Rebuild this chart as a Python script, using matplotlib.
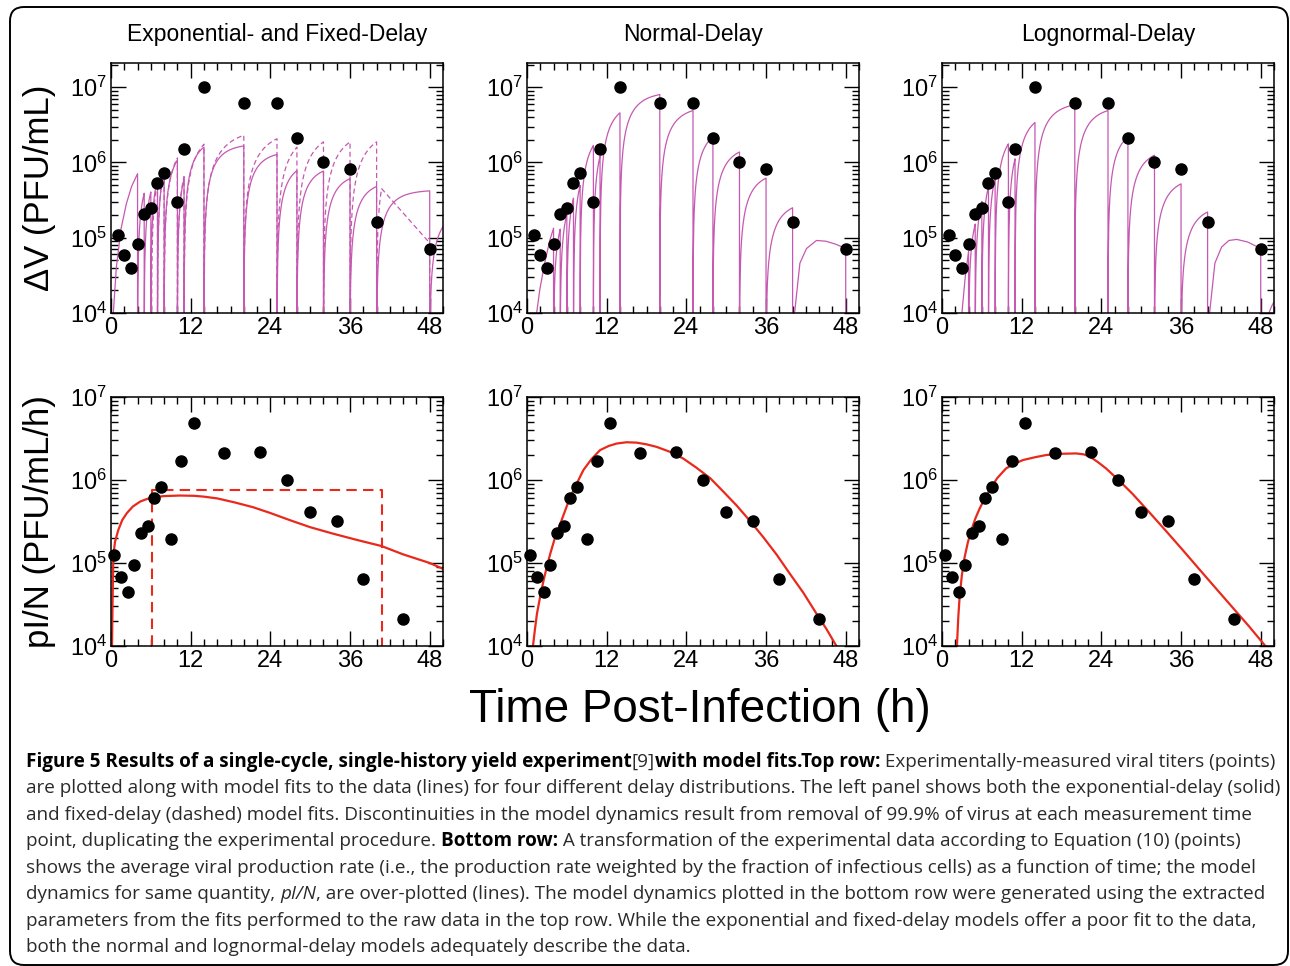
import numpy as np
import matplotlib
matplotlib.use('Agg')
from matplotlib import pyplot as plt
from matplotlib.ticker import MultipleLocator, LogLocator
from matplotlib.patches import FancyBboxPatch
from matplotlib.transforms import IdentityTransform

# Measured titers (top row), taken at these times (h).
meas_t = [1, 2, 3, 4, 5, 6, 7, 8, 10, 11, 14, 20, 25, 28, 32, 36, 40, 48]
dv_obs = [1.1e5, 5.9e4, 4.0e4, 8.3e4, 2.06e5, 2.45e5, 5.4e5, 7.3e5, 3.0e5,
          1.5e6, 1.0e7, 6.2e6, 6.2e6, 2.1e6, 1.0e6, 8.1e5, 1.6e5, 7.1e4]

# Production rate from the data (bottom row), at interval midpoints.
rate_t = [0.5, 1.5, 2.5, 3.5, 4.5, 5.5, 6.5, 7.5, 9, 10.5, 12.5, 17, 22.5,
          26.5, 30, 34, 38, 44]
rate_obs = [1.24e5, 6.7e4, 4.5e4, 9.5e4, 2.3e5, 2.8e5, 6.1e5, 8.3e5, 1.93e5,
            1.7e6, 4.9e6, 2.1e6, 2.2e6, 1.0e6, 4.1e5, 3.2e5, 6.5e4, 2.1e4]

# Top row model fits: value reached just before each 99.9% removal.
exp_head_t = [0.35, 0.8, 1.5, 2.3, 3.1, 4.0]
exp_head_v = [1e4, 4e4, 1.3e5, 2.8e5, 4.8e5, 7.1e5]
exp_ends = [5, 6, 7, 8, 10, 11, 14, 20, 25, 28, 32, 36, 40, 48, 50]
exp_peaks = [3.9e5, 4.06e5, 6.1e5, 7.5e5, 1.07e6, 6.1e5, 1.6e6, 1.66e6,
             1.28e6, 7.8e5, 7.7e5, 6.1e5, 4.8e5, 4.2e5, 1.4e5]

fix_on, fix_off, fix_rate = 6.1, 40.75, 7.6e5
fix_ends = [7, 8, 10, 11, 14, 20, 25, 28, 32, 36, 40, 40.75]
fix_peaks = [5.5e5, 8e5, 1.15e6, 6.5e5, 1.75e6, 2.3e6, 2.07e6, 1.6e6,
             1.88e6, 1.88e6, 1.88e6, 4.5e5]
fix_tail_t = [48]
fix_tail_v = [8.5e4]

norm_head_t = [1.45, 1.95, 2.7, 3.46, 4.0]
norm_head_v = [1e4, 2.1e4, 4.8e4, 9.4e4, 1.34e5]
norm_ends = [5, 6, 7, 8, 10, 11, 14, 20, 25, 28, 32, 36, 40]
norm_peaks = [1.3e5, 2.06e5, 3.36e5, 4.95e5, 1.68e6, 1.21e6, 4.57e6, 8e6,
              4.9e6, 2.2e6, 1.38e6, 6.2e5, 2.5e5]
norm_tail_t = [40.3, 41.1, 42.1, 43.6, 45.0, 46.5, 48.0]
norm_tail_v = [1e4, 4.6e4, 7.2e4, 9.2e4, 9.0e4, 8.2e4, 7.2e4]

logn_head_t = [3.0, 3.5, 4.0]
logn_head_v = [1e4, 3e4, 6.6e4]
logn_ends = [5, 6, 7, 8, 10, 11, 14, 20, 25, 28, 32, 36, 40]
logn_peaks = [1.52e5, 3.04e5, 4.8e5, 6.2e5, 1.77e6, 1.12e6, 3.4e6, 5.85e6,
              4.9e6, 2.2e6, 1.25e6, 5.2e5, 2.2e5]
logn_tail_t = [40.3, 41.1, 42.1, 43.2, 44.4, 46.0, 48.0]
logn_tail_v = [1e4, 4.6e4, 7.5e4, 9.2e4, 9.5e4, 8.8e4, 7.2e4]
logn_after_t = [50]
logn_after_v = [1.4e4]

# Bottom row model curves pI/N.
exp_rate_t = [0.15, 0.25, 0.35, 0.6, 1.1, 1.7, 2.4, 3.3, 4.4, 5.4, 6.4, 8,
              10.4, 12.5, 14, 16, 18.5, 21.4, 24, 27, 30, 33.5, 37, 40.75,
              44, 48, 50]
exp_rate_v = [1e4, 4e4, 1.2e5, 1.8e5, 2.5e5, 3.3e5, 4e5, 4.8e5, 5.5e5,
              5.9e5, 6.2e5, 6.4e5, 6.5e5, 6.45e5, 6.3e5, 6e5, 5.4e5, 4.7e5,
              4e5, 3.27e5, 2.7e5, 2.25e5, 1.9e5, 1.6e5, 1.27e5, 1e5, 8.5e4]

norm_rate_t = [0.9, 1.2, 1.5, 2.0, 2.5, 3.0, 3.5, 4.2, 5.0, 5.8, 6.5, 7.5,
               8.5, 9.7, 11, 12.3, 13.5, 15, 16.5, 18, 19.5, 21.5, 23.5,
               25.5, 27.6, 29.6, 31.6, 33.6, 35.6, 37.6, 39.6, 41.6, 43.6,
               45.1, 46.6]
norm_rate_v = [1.0e4, 1.6e4, 2.45e4, 4.0e4, 6.2e4, 9.1e4, 1.29e5, 2.0e5,
               2.95e5, 4.4e5, 6.2e5, 9.1e5, 1.32e6, 1.78e6, 2.29e6, 2.57e6,
               2.75e6, 2.85e6, 2.82e6, 2.69e6, 2.51e6, 2.19e6, 1.82e6,
               1.41e6, 1.05e6, 7.2e5, 4.9e5, 3.2e5, 2.04e5, 1.26e5, 7.4e4,
               4.4e4, 2.45e4, 1.6e4, 1.0e4]

logn_rate_t = [2.25, 2.45, 2.65, 3.0, 3.4, 3.9, 4.4, 5.0, 5.65, 6.4, 7.15,
               8.3, 9.65, 11, 12.2, 14, 15.7, 18, 20.2, 21.3, 22.2, 23.4,
               24.7, 26.7, 28.7, 31.2, 33.7, 36.2, 38.7, 41.2, 43.7, 46.2,
               48.7]
logn_rate_v = [1.0e4, 2.2e4, 3.9e4, 7.2e4, 1.17e5, 1.78e5, 2.45e5, 3.4e5,
               4.5e5, 5.9e5, 7.5e5, 1.05e6, 1.38e6, 1.58e6, 1.74e6, 1.88e6,
               2.0e6, 2.07e6, 2.09e6, 2.04e6, 1.93e6, 1.66e6, 1.38e6, 9.8e5,
               6.8e5, 4.1e5, 2.45e5, 1.45e5, 8.5e4, 5.0e4, 2.95e4, 1.74e4,
               1.0e4]

titles = ['Exponential- and Fixed-Delay', 'Normal-Delay', 'Lognormal-Delay']

MAG = '#c658b1'
RED = '#e8291c'
W, H = 1290, 966


# ---- sawtooth helpers: virus grows, then 99.9% is removed at each sample ----
def rise(t0, t1, v0, v1, c, n=80):
    tt = np.linspace(t0, t1, n)
    decay = np.exp(-c * (tt - t0))
    end_decay = np.exp(-c * (t1 - t0))
    frac = (1 - decay) / (1 - end_decay)
    return tt, v0 * decay + (v1 - v0 * end_decay) * frac


def add_rise(cur, ends, peaks, c):
    for t1, p in zip(ends, peaks):
        t0, v0 = cur[0][-1], cur[1][-1] * 1e-3
        tt, vv = rise(t0, t1, v0, p, c)
        cur[0].extend(tt)
        cur[1].extend(vv)


def add_points(cur, tp, vp, drop=True):
    if drop:
        add_drop(cur)
    cur[0].extend(tp)
    cur[1].extend(vp)


def add_drop(cur):
    cur[0].append(cur[0][-1])
    cur[1].append(cur[1][-1] * 1e-3)


exp_curve = [list(exp_head_t), list(exp_head_v)]
add_rise(exp_curve, exp_ends, exp_peaks, 0.45)

fix_curve = [[fix_on], [1.0]]
add_rise(fix_curve, fix_ends, fix_peaks, 0.25)
add_points(fix_curve, fix_tail_t, fix_tail_v, drop=False)
add_drop(fix_curve)

norm_curve = [list(norm_head_t), list(norm_head_v)]
add_rise(norm_curve, norm_ends, norm_peaks, 0.4)
add_points(norm_curve, norm_tail_t, norm_tail_v)
add_drop(norm_curve)

logn_curve = [list(logn_head_t), list(logn_head_v)]
add_rise(logn_curve, logn_ends, logn_peaks, 0.4)
add_points(logn_curve, logn_tail_t, logn_tail_v)
add_rise(logn_curve, logn_after_t, logn_after_v, 0.4)

# ---- figure ----
plt.rcParams['font.family'] = ['Liberation Sans', 'DejaVu Sans']
plt.rcParams['mathtext.default'] = 'regular'

fig = plt.figure(figsize=(W / 100, H / 100), dpi=100)

lefts = [111, 527, 942]
width = 332
top_row = (63, 313)
bot_row = (397, 646)


def make_ax(left, row):
    y0, y1 = row
    return fig.add_axes([left / W, 1 - y1 / H, width / W, (y1 - y0) / H])


def style(ax, ytop):
    ax.set_yscale('log')
    ax.set_xlim(0, 50)
    ax.set_ylim(1e4, ytop)
    ax.set_xticks([0, 12, 24, 36, 48])
    ax.xaxis.set_minor_locator(MultipleLocator(2))
    ax.yaxis.set_major_locator(LogLocator(base=10, numticks=10))
    ax.yaxis.set_minor_locator(LogLocator(base=10, subs=np.arange(2, 10), numticks=20))
    ax.tick_params(which='both', direction='in', top=True, right=True,
                   width=1.0, labelsize=17)
    ax.tick_params(which='major', length=11)
    ax.tick_params(which='minor', length=5)
    ax.tick_params(axis='x', pad=3)
    ax.tick_params(axis='y', pad=3)
    for s in ax.spines.values():
        s.set_linewidth(1.1)


top_axes = [make_ax(l, top_row) for l in lefts]
bot_axes = [make_ax(l, bot_row) for l in lefts]

# top row
ax = top_axes[0]
ax.plot(exp_curve[0], exp_curve[1], color=MAG, lw=0.9)
ax.plot(fix_curve[0], fix_curve[1], color=MAG, lw=0.9, ls=(0, (4, 2.5)))
top_axes[1].plot(norm_curve[0], norm_curve[1], color=MAG, lw=0.9)
top_axes[2].plot(logn_curve[0], logn_curve[1], color=MAG, lw=0.9)
for ax in top_axes:
    ax.plot(meas_t, dv_obs, 'o', color='black', ms=8, zorder=5, clip_on=False)
    style(ax, 2.1e7)

# bottom row
ax = bot_axes[0]
ax.plot(exp_rate_t, exp_rate_v, color=RED, lw=1.6)
ax.plot([fix_on, fix_on, fix_off, fix_off], [1e3, fix_rate, fix_rate, 1e3],
        color=RED, lw=1.5, ls=(0, (5, 3)))
bot_axes[1].plot(norm_rate_t, norm_rate_v, color=RED, lw=1.6)
bot_axes[2].plot(logn_rate_t, logn_rate_v, color=RED, lw=1.6)
for ax in bot_axes:
    ax.plot(rate_t, rate_obs, 'o', color='black', ms=8, zorder=5, clip_on=False)
    style(ax, 1e7)

for ax, title in zip(top_axes, titles):
    fig.text((ax.get_position().x0 + ax.get_position().x1) / 2, 1 - 35 / H,
             title, ha='center', va='center', fontsize=16.5)

top_axes[0].set_ylabel('\u0394V (PFU/mL)', fontsize=25)
top_axes[0].yaxis.set_label_coords(-0.165, 0.5)
bot_axes[0].set_ylabel('pI/N (PFU/mL/h)', fontsize=25)
bot_axes[0].yaxis.set_label_coords(-0.165, 0.5)

fig.text(700 / W, 1 - 710 / H, 'Time Post-Infection (h)', ha='center',
         va='center', fontsize=33)

# rounded frame round the whole figure
frame = FancyBboxPatch((10, 1), 1278, 958, boxstyle='round,pad=0,rounding_size=14',
                       transform=IdentityTransform(), fill=False,
                       edgecolor='black', lw=1.4)
fig.patches.append(frame)

# ---- caption ----
caption = [
    [('Figure 5 Results of a single-cycle, single-history yield experiment', 'bold', 'normal'),
     ('[9]', 'normal', 'normal'),
     ('with model fits.Top row:', 'bold', 'normal'),
     (' Experimentally-measured viral titers (points)', 'normal', 'normal')],
    [('are plotted along with model fits to the data (lines) for four different delay '
      'distributions. The left panel shows both the exponential-delay (solid)', 'normal', 'normal')],
    [('and fixed-delay (dashed) model fits. Discontinuities in the model dynamics result '
      'from removal of 99.9% of virus at each measurement time', 'normal', 'normal')],
    [('point, duplicating the experimental procedure. ', 'normal', 'normal'),
     ('Bottom row:', 'bold', 'normal'),
     (' A transformation of the experimental data according to Equation (10) (points)',
      'normal', 'normal')],
    [('shows the average viral production rate (i.e., the production rate weighted by the '
      'fraction of infectious cells) as a function of time; the model', 'normal', 'normal')],
    [('dynamics for same quantity, ', 'normal', 'normal'),
     ('pI/N', 'normal', 'italic'),
     (', are over-plotted (lines). The model dynamics plotted in the bottom row were '
      'generated using the extracted', 'normal', 'normal')],
    [('parameters from the fits performed to the raw data in the top row. While the '
      'exponential and fixed-delay models offer a poor fit to the data,', 'normal', 'normal')],
    [('both the normal and lognormal-delay models adequately describe the data.',
      'normal', 'normal')],
]
line_y = [762, 788, 815, 841, 868, 894, 921, 947]
cap_font = ['Open Sans', 'DejaVu Sans']
cap_size = 13.6

renderer = fig.canvas.get_renderer()
for runs, y in zip(caption, line_y):
    x = 26
    for text, weight, fstyle in runs:
        colour = 'black' if weight == 'bold' else '#2a2a2a'
        t = fig.text(x / W, 1 - y / H, text, ha='left', va='center',
                     fontsize=cap_size, fontweight=weight, fontstyle=fstyle,
                     family=cap_font, color=colour)
        bb = t.get_window_extent(renderer)
        x = bb.x1

fig.savefig('out.png', dpi=100)
